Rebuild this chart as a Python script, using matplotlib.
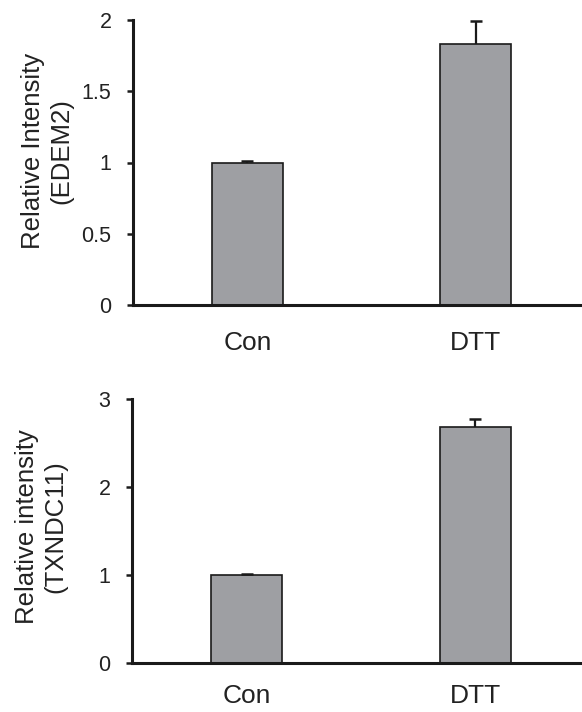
import numpy as np, matplotlib; matplotlib.use('Agg'); import matplotlib.pyplot as plt
plt.rcParams['font.family']=['Liberation Sans','DejaVu Sans']

groups=['Con','DTT']
edem2=[1.00,1.83]; edem2_err=[0.01,0.16]
txndc11=[1.00,2.68]; txndc11_err=[0.01,0.09]

BAR='#9e9fa3'; TXT='#222222'
fig=plt.figure(figsize=(5.82,7.12),dpi=100)
ax1=fig.add_axes([133/582,1-305/712,1-133/582,285/712])
ax2=fig.add_axes([132/582,1-663/712,1-132/582,264/712])

def panel(ax,vals,err,ymax,ticks,ticklabels,xlim,w,xpad):
    x=np.arange(len(vals))
    ax.bar(x,vals,width=w,color=BAR,edgecolor='#1a1a1a',linewidth=1.2,zorder=2)
    eb=ax.errorbar(x,vals,yerr=[np.zeros(len(err)),err],fmt='none',ecolor='#1a1a1a',elinewidth=1.6,capsize=4.5,capthick=1.8,zorder=3)
    eb[1][0].set_visible(False)  # drop the lower cap, only upper shown
    ax.set_ylim(0,ymax); ax.set_xlim(*xlim)
    ax.set_yticks(ticks); ax.set_yticklabels(ticklabels)
    ax.set_xticks(x); ax.set_xticklabels(groups)
    for s in ('top','right'): ax.spines[s].set_visible(False)
    for s in ('left','bottom'): ax.spines[s].set_linewidth(2.2); ax.spines[s].set_color('#1a1a1a')
    ax.tick_params(axis='y',length=4.5,width=1.8,pad=11,labelsize=15.5,colors='#1a1a1a',labelcolor=TXT)
    ax.tick_params(axis='x',length=0,pad=xpad,labelsize=19,labelcolor=TXT)

panel(ax1,edem2,edem2_err,2,[0,0.5,1,1.5,2],['0','0.5','1','1.5','2'],(-0.502,1.467),0.31,19)
panel(ax2,txndc11,txndc11_err,3,[0,1,2,3],['0','1','2','3'],(-0.502,1.467),0.31,15)

fig.text(47/582,1-151/712,'Relative Intensity\n(EDEM2)',rotation=90,ha='center',va='center',multialignment='center',fontsize=18.5,color=TXT)
fig.text(41/582,1-527/712,'Relative intensity\n(TXNDC11)',rotation=90,ha='center',va='center',multialignment='center',fontsize=18.5,color=TXT)

fig.savefig('out.png',dpi=100)
